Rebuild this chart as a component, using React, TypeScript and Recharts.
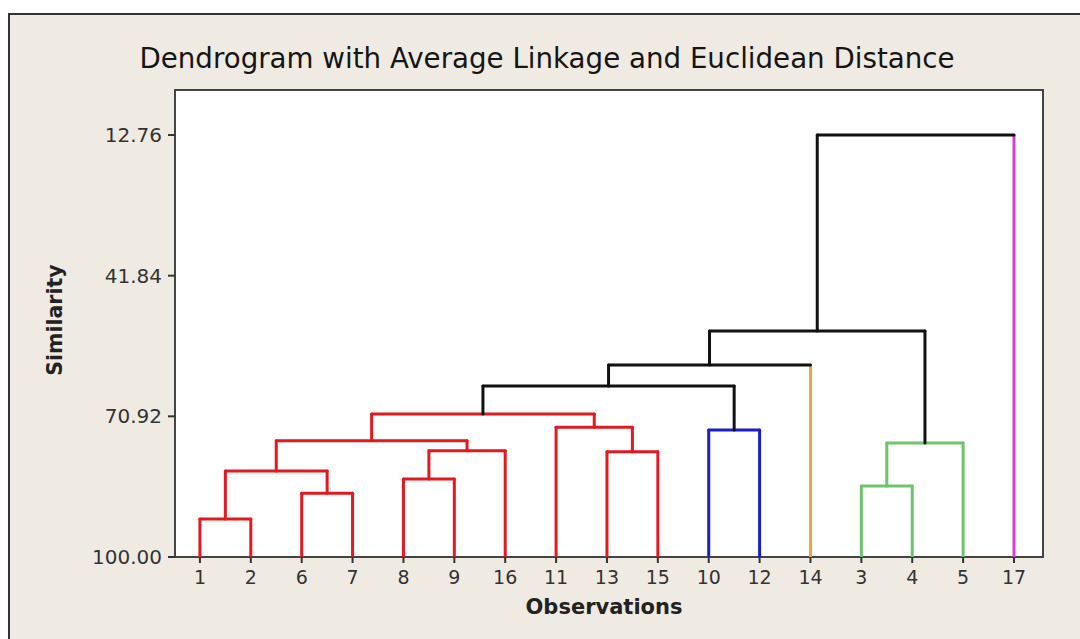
import React from "react";
import { LineChart, Line, XAxis, YAxis } from "recharts";

// leaf order along the x axis
const observations = ["1", "2", "6", "7", "8", "9", "16", "11", "13", "15", "10", "12", "14", "3", "4", "5", "17"];
const leafColors = [
  "#e3191f", "#e3191f", "#e3191f", "#e3191f", "#e3191f", "#e3191f", "#e3191f", "#e3191f", "#e3191f", "#e3191f",
  "#1c1ccc", "#1c1ccc", "#f4a338", "#6cc46c", "#6cc46c", "#6cc46c", "#dd3ddd",
];

// merges: child node ids (leaves 0..16, merges 17+), similarity level, link colour
const mergePairs: [number, number][] = [
  [0, 1], [2, 3], [17, 18], [4, 5], [20, 6], [19, 21], [8, 9], [7, 23], [22, 24],
  [10, 11], [25, 26], [27, 12], [13, 14], [29, 15], [28, 30], [31, 16],
];
const mergeSimilarity = [92.14, 86.83, 82.22, 83.87, 78.02, 75.96, 78.23, 73.19, 70.44, 73.74, 64.65, 60.31, 85.32, 76.43, 53.28, 12.76];
const mergeColors = [
  "#e3191f", "#e3191f", "#e3191f", "#e3191f", "#e3191f", "#e3191f", "#e3191f", "#e3191f", "#e3191f",
  "#1c1ccc", "#111111", "#111111", "#6cc46c", "#6cc46c", "#111111", "#111111",
];

const yTicks = [12.76, 41.84, 70.92, 100];

const FONT = "'DejaVu Sans', Verdana, sans-serif";

type Seg = { pts: { x: number; y: number }[]; color: string };

function buildSegments(): Seg[] {
  const n = observations.length;
  const pos: number[] = observations.map((_, i) => i);
  const height: number[] = observations.map(() => 100);
  const segs: Seg[] = [];
  mergePairs.forEach(([a, b], i) => {
    const h = mergeSimilarity[i];
    const c = mergeColors[i];
    pos[n + i] = (pos[a] + pos[b]) / 2;
    height[n + i] = h;
    [a, b].forEach((child) => {
      segs.push({
        pts: [{ x: pos[child], y: height[child] }, { x: pos[child], y: h }],
        color: child < n ? leafColors[child] : c,
      });
    });
    segs.push({ pts: [{ x: pos[a], y: h }, { x: pos[b], y: h }], color: c });
  });
  return segs;
}

const segments = buildSegments();

export default function App() {
  return (
    <div style={{ position: "absolute", left: 0, top: 0, width: 1080, height: 639, background: "#fff", overflow: "hidden" }}>
      <div style={{ position: "absolute", left: 8, top: 13, width: 1100, height: 700, background: "#efebe3", borderLeft: "2px solid #333", borderTop: "2px solid #333" }} />
      <div style={{ position: "absolute", left: 0, width: 1094, top: 42, textAlign: "center", fontFamily: FONT, fontSize: 27.7, color: "#151515" }}>
        Dendrogram with Average Linkage and Euclidean Distance
      </div>
      <div style={{ position: "absolute", left: 174, top: 89, width: 870, height: 469, boxSizing: "border-box", background: "#fff", border: "2px solid #444" }} />
      <div style={{ position: "absolute", left: 0, width: 1208, top: 595, textAlign: "center", fontFamily: FONT, fontSize: 21, fontWeight: "bold", color: "#222" }}>
        Observations
      </div>
      <div style={{ position: "absolute", left: 55, top: 320, transform: "translate(-50%, -50%) rotate(-90deg)", fontFamily: FONT, fontSize: 20.5, fontWeight: "bold", color: "#222", whiteSpace: "nowrap" }}>
        Similarity
      </div>
      <div style={{ position: "absolute", left: 0, top: 0 }}>
        <LineChart width={1080} height={639} margin={{ top: 90, right: 37, bottom: 52, left: 0 }}>
          <XAxis
            dataKey="x"
            type="number"
            domain={[-0.49, 16.57]}
            ticks={observations.map((_, i) => i)}
            tickFormatter={(v: number) => observations[v]}
            allowDataOverflow
            axisLine={false}
            height={30}
            tickSize={6}
            tickMargin={8}
            tickLine={{ stroke: "#333", strokeWidth: 2 }}
            tick={{ fill: "#333", fontSize: 19, fontFamily: FONT }}
            interval={0}
          />
          <YAxis
            type="number"
            dataKey="y"
            domain={[3.45, 100]}
            reversed
            ticks={yTicks}
            tickFormatter={(v: number) => v.toFixed(2)}
            allowDataOverflow
            axisLine={false}
            width={175}
            tickSize={7}
            tickMargin={6}
            tickLine={{ stroke: "#333", strokeWidth: 2 }}
            tick={{ fill: "#333", fontSize: 20, fontFamily: FONT }}
            interval={0}
          />
          {segments.map((s, i) => (
            <Line
              key={i}
              data={s.pts}
              dataKey="y"
              type="linear"
              stroke={s.color}
              strokeWidth={3}
              strokeLinecap="round"
              dot={false}
              activeDot={false}
              isAnimationActive={false}
              legendType="none"
            />
          ))}
        </LineChart>
      </div>
    </div>
  );
}
